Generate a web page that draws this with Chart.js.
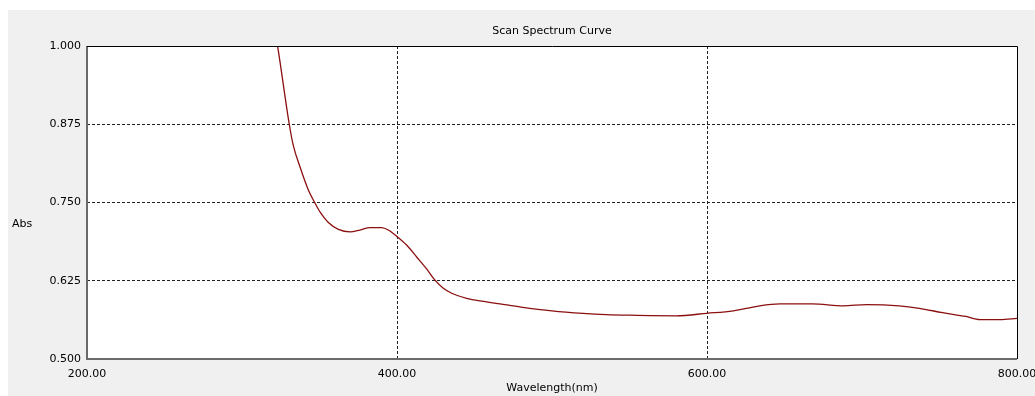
<!DOCTYPE html>
<html>
<head>
<meta charset="utf-8">
<script src="https://cdn.jsdelivr.net/npm/chart.js@4"></script>
<style>
  html, body { margin: 0; padding: 0; background: #fff; }
  #wrap { width: 1035px; height: 396px; }
</style>
</head>
<body>
<div id="wrap"><canvas id="spectrumChart" width="1035" height="396"></canvas></div>
<script>
// Spectrum values
const wavelengths = [320, 323, 330.5, 333, 337.4, 342.8, 347.1, 350.3, 355.7, 362.2, 369.7, 376.1, 382.6, 390.1, 394.4, 399.8,
    406.2, 412.7, 419.1, 424.5, 429.9, 435.3, 444.9, 455.7, 466.5, 480, 500, 520, 535, 550, 580, 600,
    617, 634, 647, 668, 688, 703, 724, 737, 752, 767, 776, 789, 800];
const absorbance = [1.04, 0.999, 0.875, 0.842, 0.807, 0.770, 0.749, 0.735, 0.718, 0.707, 0.703, 0.706, 0.710, 0.710, 0.706, 0.696,
    0.682, 0.663, 0.644, 0.626, 0.613, 0.605, 0.597, 0.592, 0.588, 0.583, 0.577, 0.573, 0.571, 0.570, 0.569, 0.573,
    0.577, 0.585, 0.588, 0.588, 0.585, 0.587, 0.585, 0.581, 0.574, 0.568, 0.563, 0.563, 0.565];

const xTicks = [200, 400, 600, 800];
const yTicks = [0.500, 0.625, 0.750, 0.875, 1.000];

const chartTitle = 'Scan Spectrum Curve';
const yLabel = 'Abs';
const xLabel = 'Wavelength(nm)';

const FONT = '"DejaVu Sans", sans-serif';

// Grey panel, white plot area, frame and the odd text bits
const panelPlugin = {
    id: 'panel',
    beforeDraw(chart) {
        const ctx = chart.ctx;
        const a = chart.chartArea;
        ctx.save();
        ctx.fillStyle = '#ffffff';
        ctx.fillRect(0, 0, chart.width, chart.height);
        ctx.fillStyle = '#f0f0f0';
        ctx.fillRect(8, 10, chart.width - 8, chart.height - 10);
        ctx.fillStyle = '#ffffff';
        ctx.fillRect(a.left, a.top, a.right - a.left, a.bottom - a.top);
        ctx.restore();
    },
    afterDraw(chart) {
        const ctx = chart.ctx;
        const a = chart.chartArea;
        ctx.save();
        // frame: dark grey left/bottom, black top/right
        ctx.strokeStyle = '#6a6a6a';
        ctx.lineWidth = 2;
        ctx.beginPath();
        ctx.moveTo(a.left, a.top);
        ctx.lineTo(a.left, a.bottom);
        ctx.lineTo(a.right, a.bottom);
        ctx.stroke();
        ctx.strokeStyle = '#000000';
        ctx.lineWidth = 1;
        ctx.beginPath();
        ctx.moveTo(a.left, a.top + 0.5);
        ctx.lineTo(a.right + 0.5, a.top + 0.5);
        ctx.lineTo(a.right + 0.5, a.bottom);
        ctx.stroke();

        ctx.fillStyle = '#000000';
        ctx.font = '11px ' + FONT;
        ctx.textAlign = 'center';
        ctx.textBaseline = 'middle';
        ctx.fillText(chartTitle, (a.left + a.right) / 2, 31);
        ctx.textAlign = 'left';
        ctx.fillText(yLabel, 12, 224);
        ctx.restore();
    }
};

function gridColor(c, count) {
    return (c.index === 0 || c.index === count - 1) ? 'rgba(0,0,0,0)' : '#222222';
}

const ctxSpectrum = document.getElementById('spectrumChart').getContext('2d');

const spectrumChart = new Chart(ctxSpectrum, {
    type: 'line',
    data: {
        datasets: [{
            label: 'Abs',
            data: wavelengths.map((w, i) => ({x: w, y: absorbance[i]})),
            borderColor: '#8b0f0f',
            borderWidth: 1.3,
            pointRadius: 0,
            cubicInterpolationMode: 'monotone',
            fill: false
        }]
    },
    options: {
        responsive: false,
        animation: false,
        layout: {padding: {top: 46, right: 18, bottom: 0, left: 0}},
        plugins: {
            legend: {display: false},
            tooltip: {enabled: false}
        },
        scales: {
            x: {
                type: 'linear',
                min: xTicks[0],
                max: xTicks[xTicks.length - 1],
                afterBuildTicks: (s) => { s.ticks = xTicks.map(v => ({value: v})); },
                afterFit: (s) => { s.height = 37; s.paddingLeft = 0; s.paddingRight = 0; },
                border: {display: false, dash: [3, 2]},
                grid: {
                    drawTicks: false,
                    color: (c) => gridColor(c, xTicks.length),
                    lineWidth: 1
                },
                ticks: {
                    padding: 9,
                    maxRotation: 0,
                    autoSkip: false,
                    color: '#000',
                    font: {family: FONT, size: 11},
                    callback: (v) => Number(v).toFixed(2)
                },
                title: {
                    display: true,
                    text: xLabel,
                    color: '#000',
                    font: {family: FONT, size: 11},
                    padding: {top: 0, bottom: 1}
                }
            },
            y: {
                min: yTicks[0],
                max: yTicks[yTicks.length - 1],
                afterBuildTicks: (s) => { s.ticks = yTicks.map(v => ({value: v})); },
                afterFit: (s) => { s.width = 87; s.paddingTop = 0; s.paddingBottom = 0; },
                border: {display: false, dash: [3, 2]},
                grid: {
                    drawTicks: false,
                    color: (c) => gridColor(c, yTicks.length),
                    lineWidth: 1
                },
                ticks: {
                    padding: 6,
                    color: '#000',
                    font: {family: FONT, size: 11},
                    callback: (v) => Number(v).toFixed(3)
                }
            }
        }
    },
    plugins: [panelPlugin]
});
</script>
</body>
</html>
